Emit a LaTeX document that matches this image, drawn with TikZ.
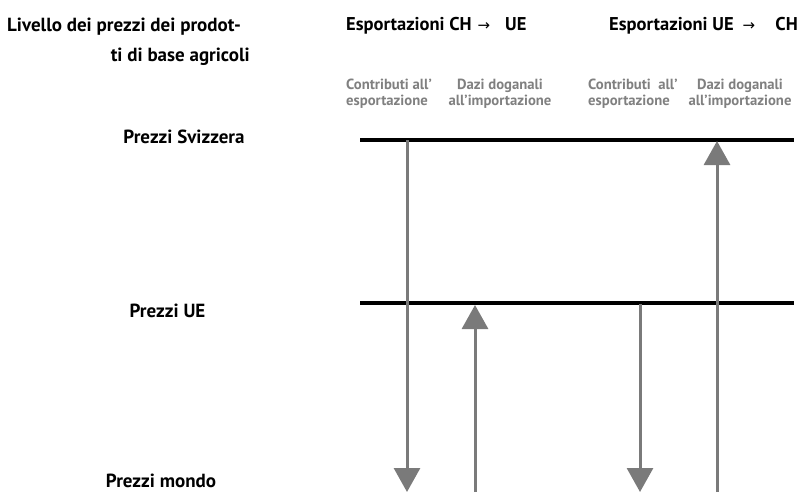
\documentclass[tikz,border=0pt]{standalone}
\usepackage{fontspec}
\setmainfont{PT Sans}
\newfontfamily\symfont{DejaVu Sans}
\usetikzlibrary{arrows.meta}
\definecolor{arrgray}{HTML}{7A7A7A}
\definecolor{txtgray}{HTML}{808080}
\begin{document}
\begin{tikzpicture}[x=1pt,y=-1pt,
  level/.style={line width=3.5pt,black},
  flow/.style={line width=3pt,arrgray,-{Triangle[width=26pt,length=24pt]},shorten >=0pt},
  head/.style={font=\fontsize{19}{22}\selectfont\bfseries,inner sep=0pt},
  head2/.style={font=\fontsize{18.5}{22}\selectfont\bfseries,inner sep=0pt},
  harr/.style={font=\symfont\fontsize{15}{18}\selectfont,inner sep=0pt},
  sub/.style={font=\fontsize{14.7}{16}\selectfont\bfseries,text=txtgray,inner sep=0pt,align=center},
  lab/.style={font=\fontsize{19}{22}\selectfont\bfseries,inner sep=0pt}]
\useasboundingbox (0,0) rectangle (802,492);
% titles
\node[head,anchor=west] (t1) at (7,27) {Livello dei prezzi dei prodot-};
\node[head,anchor=east] (t2) at (250,57) {ti di base agricoli};
\node[head2,anchor=base west] (t3) at (346,31) {Esportazioni CH};
\node[harr,anchor=base] (t3a) at (484,31) {→};
\node[head2,anchor=base west] (t3b) at (505,31) {UE};
\node[head2,anchor=base west] (t4) at (609,31) {Esportazioni UE};
\node[harr,anchor=base] (t4a) at (749,31) {→};
\node[head2,anchor=base east] (t4b) at (798,31) {CH};
% sub labels
\node[sub,align=left,anchor=west] (s1) at (346,94) {Contributi all'\\esportazione};
\node[sub] (s2) at (500,94) {Dazi doganali\\all'importazione};
\node[sub,align=left,anchor=west] (s3) at (588,94) {Contributi\ \ all'\\esportazione};
\node[sub] (s4) at (740,94) {Dazi doganali\\all'importazione};
% level labels
\node[lab] (p1) at (184,137) {Prezzi Svizzera};
\node[lab] (p2) at (167.5,311) {Prezzi UE};
\node[lab] (p3) at (161,481) {Prezzi mondo};
% level lines
\coordinate (a1) at (360,140); \coordinate (b1) at (794,140);
\coordinate (a2) at (360,303); \coordinate (b2) at (794,303);
\draw[level] (a1) -- (b1);
\draw[level] (a2) -- (b2);
% arrows
\coordinate (f1s) at (407,140); \coordinate (f1e) at (407,492);
\coordinate (f2s) at (475,492); \coordinate (f2e) at (475,305);
\coordinate (f3s) at (640,304); \coordinate (f3e) at (640,492);
\coordinate (f4s) at (717,492); \coordinate (f4e) at (717,141);
\draw[flow] (f1s) -- (f1e);
\draw[flow] (f2s) -- (f2e);
\draw[flow] (f3s) -- (f3e);
\draw[flow] (f4s) -- (f4e);
\end{tikzpicture}
\end{document}
